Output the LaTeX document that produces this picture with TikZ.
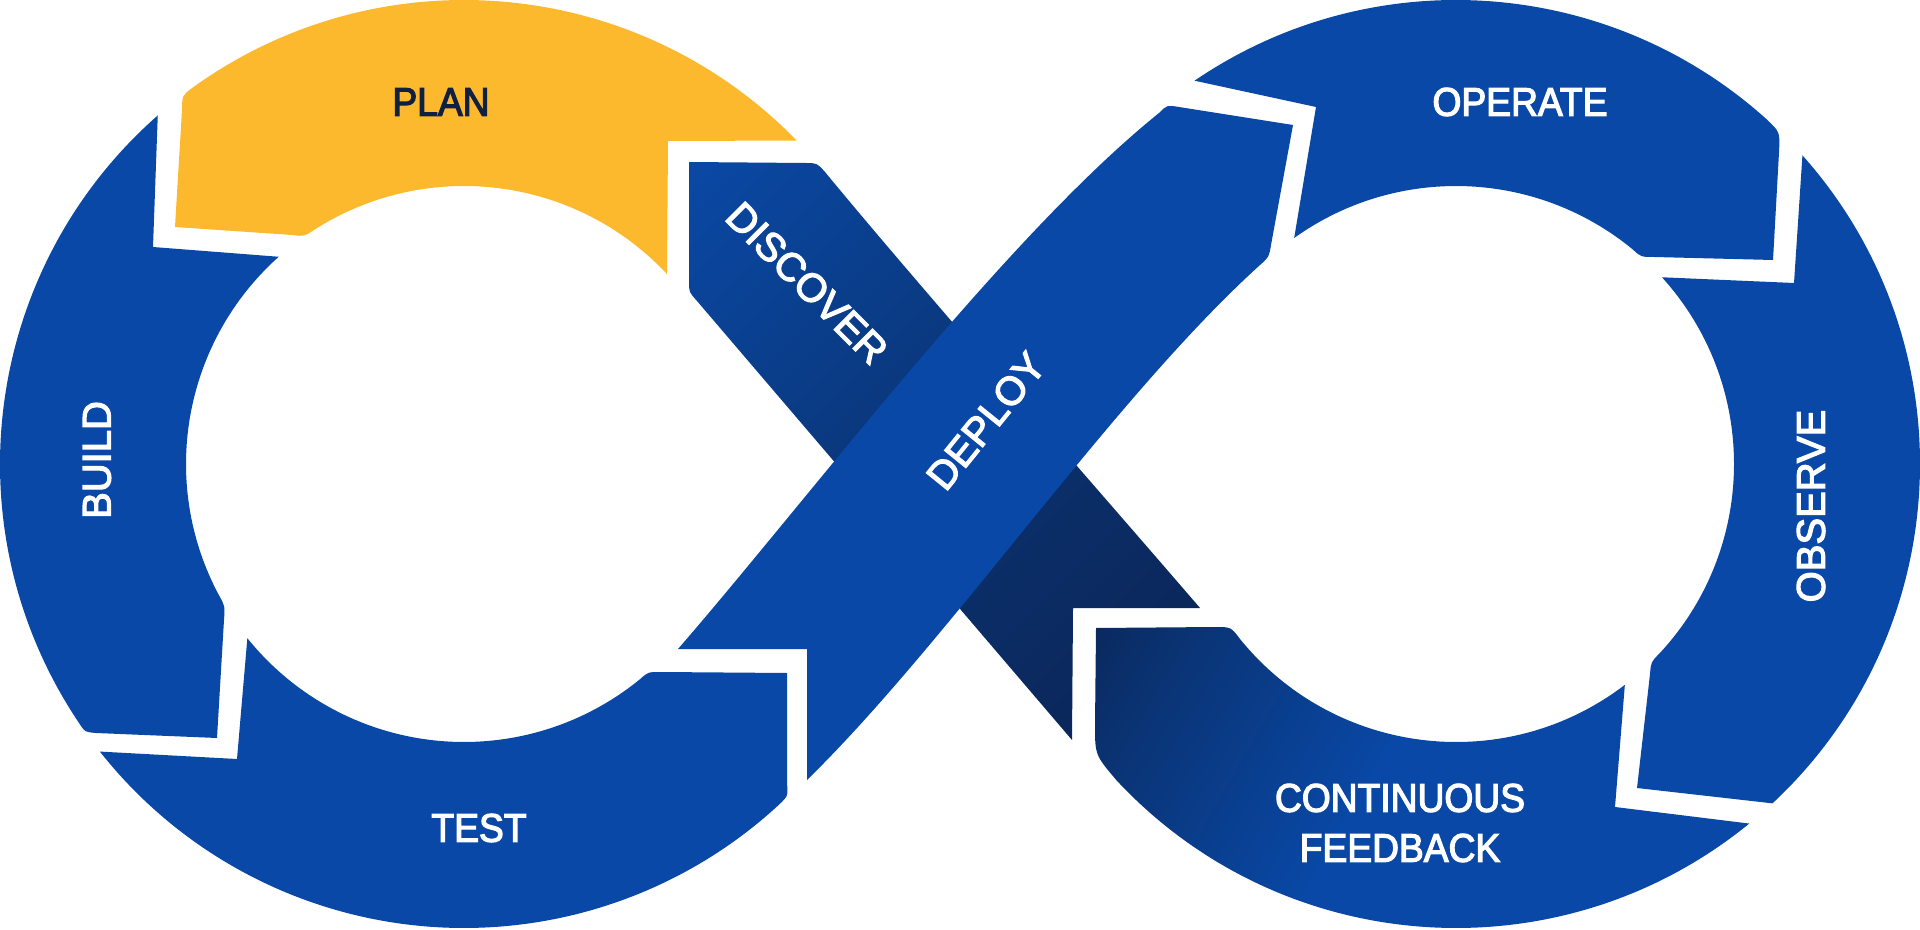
\documentclass[tikz,border=0pt]{standalone}
\usepackage{fontspec}
\setmainfont{Liberation Sans}
\newfontfamily\labfont[FakeBold=3]{Liberation Sans}
\newfontfamily\condfont[FakeStretch=0.93,FakeBold=3]{Liberation Sans}
\usetikzlibrary{calc}
\definecolor{mainblue}{RGB}{9,72,166}
\definecolor{plany}{RGB}{253,185,46}
\definecolor{navytext}{RGB}{16,32,64}
\definecolor{discA}{RGB}{10,74,168}
\definecolor{discM}{RGB}{10,57,128}
\definecolor{discN}{RGB}{11,46,104}
\definecolor{discB}{RGB}{11,34,82}
\definecolor{cfdark}{RGB}{11,30,72}
\definecolor{cfmid}{RGB}{10,50,112}
\pgfdeclarehorizontalshading{cfshade}{100bp}{color(0bp)=(cfdark); color(8bp)=(cfdark); color(22bp)=(cfmid); color(45bp)=(mainblue); color(100bp)=(mainblue)}
\pgfdeclarehorizontalshading{discshade}{100bp}{color(0bp)=(discA); color(12bp)=(discA); color(42bp)=(discM); color(60bp)=(discN); color(90bp)=(discB); color(100bp)=(discB)}
\tikzset{
  lab/.style={text=white, font=\labfont\fontsize{20}{24}\selectfont, inner sep=0pt},
  clab/.style={text=white, font=\condfont\fontsize{20}{24}\selectfont, inner sep=0pt},
  segblue/.style={fill=mainblue},
  segyellow/.style={fill=plany}
}
\begin{document}
\begin{tikzpicture}[x=0.5pt,y=-0.5pt]
\useasboundingbox (0,0) rectangle (1920,930);
\coordinate (L) at (464,464);
\coordinate (R) at (1456,464);

% PLAN
\path[segyellow] (182,110) .. controls ($(L)+(-127.4:464)$) .. ($(L)+(-125.9:464)$)
  arc[start angle=-125.9, end angle=-44.2, radius=464]
  -- (668,141) -- ($(L)+(-43.1:278)$) arc[start angle=-43.1, end angle=-122.6, radius=278]
  .. controls ($(L)+(-125.1:278)$) .. (292,235) -- (175,227) -- cycle;
% BUILD
\path[segblue] ($(L)+(228.7:464)$) arc[start angle=228.7, end angle=145.8, radius=464]
  .. controls (85,732) .. (96,733) -- (217,738) -- (224,620)
  .. controls (225,606) .. ($(L)+(151.8:278)$)
  arc[start angle=151.8, end angle=228.2, radius=278]
  -- (153,247) -- cycle;
% TEST
\path[segblue] ($(L)+(141.7:464)$) arc[start angle=141.7, end angle=47.3, radius=464]
  .. controls ($(L)+(45.7:464)$) .. (787,783) -- (787,673) -- (661,672)
  .. controls (648,672) .. ($(L)+(50.6:278)$)
  arc[start angle=50.6, end angle=141.2, radius=278]
  -- (237,759) -- cycle;
% DISCOVER band (passes under DEPLOY)
\shade[shading=discshade, shading angle=-45]
  (689,162) -- (805,163) .. controls (817,163) .. (825,172)
  .. controls (918,285) and (1102,494) .. (1200,608)
  -- (1073,608) -- (1072,740) -- (697,301) .. controls (689,292) .. (689,282) -- cycle;
% DEPLOY band
\path[segblue] (678,649) -- (807,649) -- (807,780)
  .. controls (950,640) and (1112,399) .. (1260,265)
  .. controls (1269,257) .. (1271,245)
  -- (1293,125) -- (1179,107) .. controls (1167,105) .. (1159,113)
  .. controls (1005,237) and (809,498) .. (678,649) -- cycle;
% CONTINUOUS FEEDBACK
\shade[shading=cfshade, shading angle=-30]
  (1096,628) -- (1215,627) .. controls (1231,627) .. ($(R)+(141:278)$)
  arc[start angle=141, end angle=52.6, radius=278]
  -- (1615,807) -- ($(R)+(50.8:464)$) arc[start angle=50.8, end angle=137, radius=464]
  .. controls (1095,755) .. (1095,725) -- cycle;
% OBSERVE
\path[segblue] ($(R)+(-41.7:464)$) arc[start angle=-41.7, end angle=47, radius=464]
  -- (1637,788) -- (1650,674) .. controls (1651,662) .. ($(R)+(43:278)$)
  arc[start angle=43, end angle=-42.2, radius=278]
  -- (1794,283) -- cycle;
% OPERATE
\path[segblue] ($(R)+(-124.3:464)$) arc[start angle=-124.3, end angle=-48, radius=464]
  .. controls (1780,132) .. (1779,152) -- (1773,260) -- (1654,257)
  .. controls (1641,257) .. ($(R)+(-50.5:278)$)
  arc[start angle=-50.5, end angle=-125.6, radius=278]
  -- (1316,107) -- cycle;

% labels
\node[clab, text=navytext] (plan) at (441,102) {PLAN};
\node[clab] (operate) at (1520,102) {OPERATE};
\node[clab] (test) at (479,828) {TEST};
\node[clab] (cont) at (1400,798) {CONTINUOUS};
\node[clab] (feed) at (1400,848) {FEEDBACK};
\node[lab, rotate=90] (build) at (97,460) {BUILD};
\node[lab, rotate=90] (observe) at (1811,506) {OBSERVE};
\node[lab, rotate=-45] (discover) at (807,283) {DISCOVER};
\node[lab, rotate=51] (deploy) at (986,421) {DEPLOY};
\end{tikzpicture}
\end{document}
